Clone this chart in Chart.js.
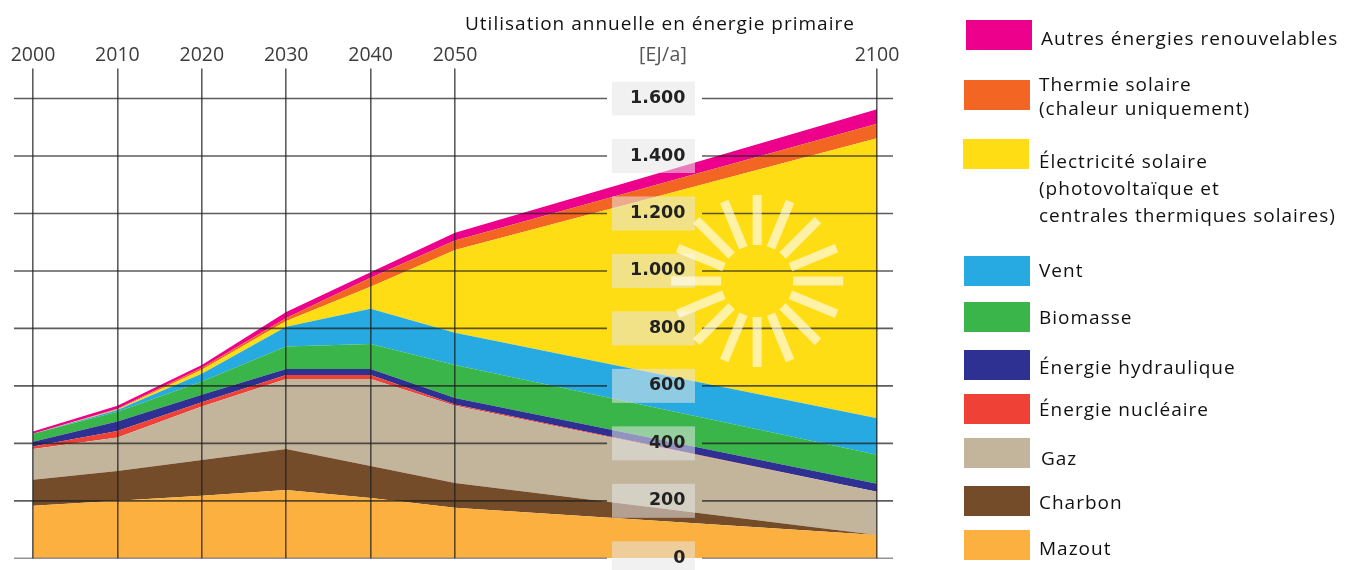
<!DOCTYPE html>
<html lang="fr">
<head>
<meta charset="utf-8">
<title>Utilisation annuelle en énergie primaire</title>
<script src="https://cdn.jsdelivr.net/npm/chart.js@4"></script>
<style>
    html, body { margin: 0; padding: 0; background: #fff; }
    #wrap { position: relative; width: 1349px; height: 570px; overflow: hidden; font-family: "Open Sans", sans-serif; color: #111; }
    canvas { position: absolute; left: 0; top: 0; filter: blur(0.4px); }
    .label { position: absolute; font-size: 19px; line-height: 27px; letter-spacing: 1px; white-space: pre-line; }
    .swatch { position: absolute; width: 66px; height: 30px; }
    #title { left: 465px; top: 10px; white-space: nowrap; }
    #unit { left: 639px; top: 40px; font-size: 19.5px; letter-spacing: 0.2px; color: #555; }
</style>
</head>
<body>
<div id="wrap">
    <canvas id="energyChart" width="1349" height="570"></canvas>
    <div id="title" class="label">Utilisation annuelle en énergie primaire</div>
    <div id="unit" class="label">[EJ/a]</div>
</div>
<script>
// Data, bottom layer first
const years = [2000, 2010, 2020, 2030, 2040, 2050, 2100];
const yTickLabels = ['0', '200', '400', '600', '800', '1.000', '1.200', '1.400', '1.600'];

const mazout = [183, 200, 218, 238, 210, 176, 81];
const charbon = [90, 104, 124, 142, 111, 86, 0];
const gaz = [107, 116, 186, 244, 303, 269, 151];
const nucleaire = [9, 23, 15, 14, 14, 4, 0];
const hydraulique = [17, 33, 26, 21, 21, 23, 27];
const biomasse = [27, 34, 46, 78, 87, 115, 101];
const vent = [0, 6, 27, 69, 122, 112, 127];
const electriciteSolaire = [0, 2, 14, 20, 77, 288, 975];
const thermieSolaire = [0, 2, 7, 10, 31, 33, 50];
const autres = [8, 11, 10, 21, 19, 27, 51];

const layers = [mazout, charbon, gaz, nucleaire, hydraulique, biomasse, vent, electriciteSolaire, thermieSolaire, autres];
const layerNames = [
    'Mazout',
    'Charbon',
    'Gaz',
    'Énergie nucléaire',
    'Énergie hydraulique',
    'Biomasse',
    'Vent',
    'Électricité solaire\n(photovoltaïque et\ncentrales thermiques solaires)',
    'Thermie solaire\n(chaleur uniquement)',
    'Autres énergies renouvelables'
];
const layerColors = ['#FBB040', '#754C29', '#C2B59B', '#EF4136', '#2E3192', '#39B54A', '#27AAE1', '#FFDD15', '#F36523', '#EC008C'];

// Legend layout, same order as the layers
const swatchLefts = [964, 964, 964, 964, 964, 964, 964, 963, 964, 966];
const swatchTops = [530, 486, 438, 394, 350, 302, 256, 139, 80, 20];
const labelLefts = [1039, 1039, 1041, 1039, 1039, 1039, 1039, 1039, 1039, 1041];
const labelTops = [535, 489, 445, 396, 354, 304, 257, 148, 72, 25];
const labelLineHeights = [27, 27, 27, 27, 27, 27, 27, 27, 24, 27];

// Build the html legend
const wrap = document.getElementById('wrap');
layerNames.forEach((name, i) => {
    const swatch = document.createElement('div');
    swatch.className = 'swatch';
    swatch.style.left = swatchLefts[i] + 'px';
    swatch.style.top = swatchTops[i] + 'px';
    swatch.style.background = layerColors[i];
    wrap.appendChild(swatch);

    const label = document.createElement('div');
    label.className = 'label';
    label.style.left = labelLefts[i] + 'px';
    label.style.top = labelTops[i] + 'px';
    label.style.lineHeight = labelLineHeights[i] + 'px';
    label.textContent = name;
    wrap.appendChild(label);
});

// Horizontal rules with a gap for the value labels, label boxes and the sun
const overlayPlugin = {
    id: 'overlay',
    afterDatasetsDraw(chart) {
        const ctx = chart.ctx;
        const yScale = chart.scales.y;
        const xScale = chart.scales.x;

        ctx.save();
        yScale.ticks.forEach((tick, i) => {
            const y = yScale.getPixelForTick(i);
            ctx.fillStyle = 'rgba(230, 230, 230, 0.55)';
            ctx.fillRect(612, y - 17, 83, 34);

            ctx.strokeStyle = tick.value === 0 ? 'rgba(120, 120, 120, 0.8)' : 'rgba(30, 30, 30, 0.72)';
            ctx.lineWidth = 1.6;
            ctx.beginPath();
            ctx.moveTo(14, y);
            ctx.lineTo(607, y);
            ctx.moveTo(702, y);
            ctx.lineTo(893, y);
            ctx.stroke();
        });

        // sun rays
        const cx = xScale.getPixelForValue(2085.8);
        const cy = yScale.getPixelForValue(965);
        ctx.strokeStyle = 'rgba(255, 255, 255, 0.62)';
        ctx.lineWidth = 9;
        for (let i = 0; i < 16; i++) {
            const a = i * Math.PI / 8;
            ctx.beginPath();
            ctx.moveTo(cx + 36 * Math.cos(a), cy + 36 * Math.sin(a));
            ctx.lineTo(cx + 86 * Math.cos(a), cy + 86 * Math.sin(a));
            ctx.stroke();
        }
        ctx.restore();
    }
};

new Chart(document.getElementById('energyChart').getContext('2d'), {
    type: 'line',
    data: {
        datasets: layers.map((values, i) => ({
            label: layerNames[i],
            data: values.map((v, j) => ({ x: years[j], y: v })),
            backgroundColor: layerColors[i],
            borderWidth: 0,
            pointRadius: 0,
            tension: 0,
            fill: i === 0 ? 'origin' : '-1'
        }))
    },
    options: {
        responsive: false,
        animation: false,
        layout: {
            padding: { left: 33, right: 472, top: 0, bottom: 11.7 }
        },
        plugins: {
            legend: { display: false },
            title: { display: false },
            tooltip: { enabled: false }
        },
        scales: {
            x: {
                type: 'linear',
                position: 'top',
                min: 2000,
                max: 2100,
                afterBuildTicks(scale) {
                    scale.ticks = years.map(y => ({ value: y }));
                },
                afterFit(scale) {
                    scale.height = 98.5;
                },
                grid: {
                    z: 1,
                    color: 'rgba(30, 30, 30, 0.72)',
                    lineWidth: 1.6,
                    tickLength: 30,
                    drawOnChartArea: true
                },
                border: { display: false },
                ticks: {
                    autoSkip: false,
                    maxRotation: 0,
                    padding: 1,
                    color: '#3c3c3c',
                    font: { family: 'Open Sans', size: 19.5 },
                    callback: value => String(value)
                }
            },
            y: {
                position: { x: 2077.3 },
                stacked: true,
                min: 0,
                max: 1600,
                grid: { display: false, drawTicks: false },
                border: { display: false },
                ticks: {
                    z: 2,
                    stepSize: 200,
                    padding: 0,
                    color: '#222',
                    font: { family: 'DejaVu Sans', size: 17.5, weight: 'bold' },
                    callback: (value, index) => yTickLabels[index]
                }
            }
        }
    },
    plugins: [overlayPlugin]
});
</script>
</body>
</html>
